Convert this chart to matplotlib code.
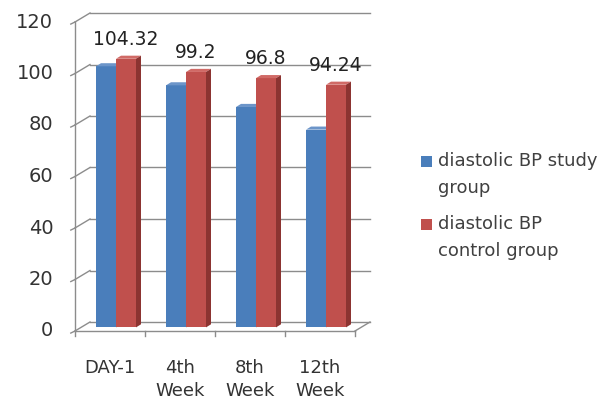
import numpy as np
import matplotlib.pyplot as plt
from matplotlib.patches import Polygon, Rectangle

categories = ['DAY-1', '4th\nWeek', '8th\nWeek', '12th\nWeek']
study_bp = [101.4, 94.0, 85.6, 76.8]
control_bp = [104.32, 99.2, 96.8, 94.24]
control_labels = ['104.32', '99.2', '96.8', '94.24']
yticks = [0, 20, 40, 60, 80, 100, 120]
series_names = [['diastolic BP study', 'group'], ['diastolic BP', 'control group']]

blue = ('#4a7ebb', '#6c95c9', '#36608f')   # front, top, side
red = ('#c0504d', '#d06a66', '#8c3431')

fig = plt.figure(figsize=(6.13, 4.01), dpi=100)
W, H = 613, 401
# plot area: x 0..4 -> px 75..355, y 0..120 -> px 331..22
ax = fig.add_axes([75 / W, (H - 331) / H, 280 / W, 309 / H])
ax.set_xlim(0, 4)
ax.set_ylim(0, 120)
ax.axis('off')

pxx = 70.0      # px per category
pxy = 2.575     # px per unit
# wall depth and bar placement offsets (oblique projection)
wdx, wdy = 15 / pxx, 9 / pxy
fdx, fdy = 6 / pxx, 1.4
bdx, bdy = 5 / pxx, 1.2
bw = 20 / pxx

gc = '#8c8c8c'
kw = dict(color=gc, lw=1, clip_on=False, zorder=1)
# back wall gridlines and left wall diagonals
for v in yticks:
    ax.plot([0, wdx], [v, v + wdy], **kw)
    ax.plot([wdx, 4 + wdx], [v + wdy, v + wdy], **kw)
    ax.plot([-0.06, 0], [v - 0.8, v], **kw)
# floor
ax.plot([0, 4], [0, 0], **kw)
ax.plot([4, 4 + wdx], [0, wdy], **kw)
ax.plot([0, 0], [0, 120], **kw)
for i in range(5):
    ax.plot([i, i], [0, -1.8], **kw)

def bar3d(x0, v, cols, z):
    f, t, s = cols
    y0 = fdy
    x1 = x0 + bw
    top = v + fdy
    ax.add_patch(Polygon([(x0, y0), (x1, y0), (x1, top), (x0, top)],
                         closed=True, fc=f, ec='none', zorder=z, clip_on=False))
    ax.add_patch(Polygon([(x0, top), (x1, top), (x1 + bdx, top + bdy), (x0 + bdx, top + bdy)],
                         closed=True, fc=t, ec='none', zorder=z, clip_on=False))
    ax.add_patch(Polygon([(x1, y0), (x1 + bdx, y0 + bdy), (x1 + bdx, top + bdy), (x1, top)],
                         closed=True, fc=s, ec='none', zorder=z, clip_on=False))

for i in range(len(categories)):
    xb = i + 0.5 - bw + fdx
    bar3d(xb, study_bp[i], blue, 3)
    bar3d(xb + bw, control_bp[i], red, 4)
    ax.text(xb + 1.5 * bw, control_bp[i] + 9, control_labels[i],
            ha='center', va='center', fontsize=13.5, color='#222222', zorder=6)
    ax.text(i + 0.5, -11.0, categories[i], ha='center', va='top', fontsize=13,
            color='#333333', linespacing=1.3)

for v in yticks:
    ax.text(-0.31, v, str(v), ha='right', va='center', fontsize=14, color='#333333')

# legend: swatch aligned with the first line of each entry
for k, (lines, col) in enumerate(zip(series_names, [blue[0], red[0]])):
    y0 = 161 + 63 * k
    fig.patches.append(Rectangle((421 / W, 1 - (y0 + 6) / H), 11 / W, 11 / H,
                                 transform=fig.transFigure, fc=col, ec='none'))
    for j, line in enumerate(lines):
        fig.text(438 / W, 1 - (y0 + 27 * j) / H, line, ha='left', va='center',
                 fontsize=13, color='#404040')

fig.savefig('out.png', dpi=100, facecolor='white')
